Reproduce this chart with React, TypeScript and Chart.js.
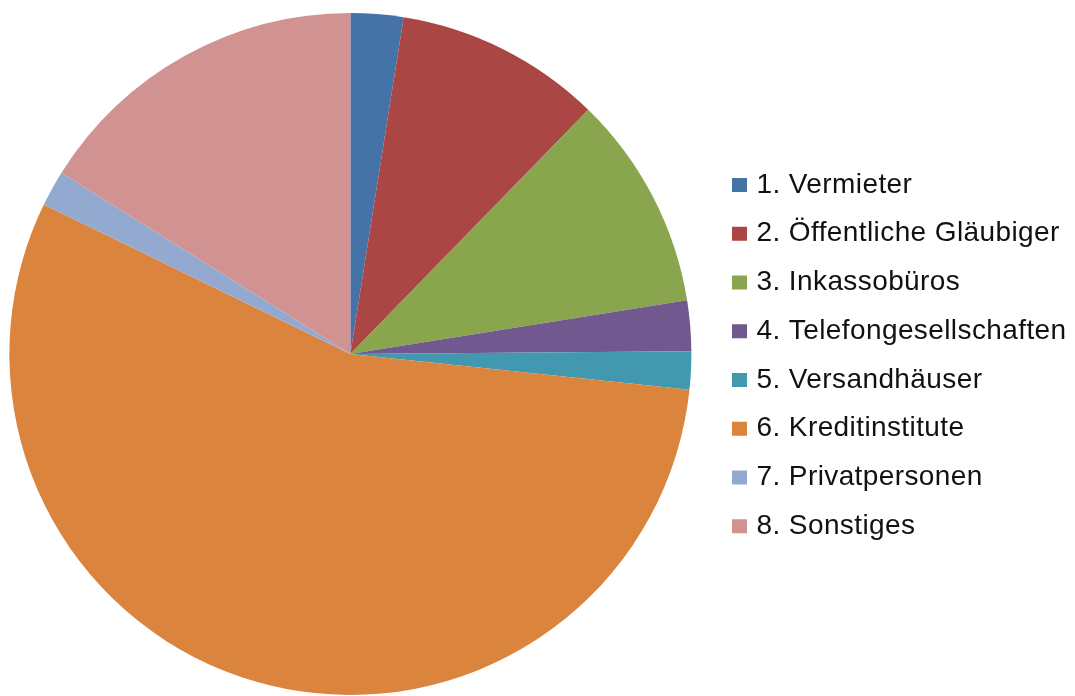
import React, { useEffect, useRef } from "react";
import { Chart, registerables } from "chart.js";

Chart.register(...registerables);

const CATEGORIES = [
  "1. Vermieter",
  "2. Öffentliche Gläubiger",
  "3. Inkassobüros",
  "4. Telefongesellschaften",
  "5. Versandhäuser",
  "6. Kreditinstitute",
  "7. Privatpersonen",
  "8. Sonstiges",
];

const SHARES = [2.5, 9.8, 10.2, 2.4, 1.8, 55.6, 1.7, 16.1];

const COLORS = [
  "#4573A7",
  "#AA4643",
  "#89A54E",
  "#71588F",
  "#4198AF",
  "#DB843D",
  "#93A9CF",
  "#D19392",
];

const CANVAS_W = 1091;
const CANVAS_H = 696;
const CANVAS_OFFSET_X = -16;
const LEGEND_W = 359.25;
const FONT = "'Liberation Sans', Arial, sans-serif";

const legendWidthPlugin = {
  id: "legendWidth",
  beforeLayout(chart: any) {
    const lg = chart.legend;
    if (lg && !lg.__patched) {
      const orig = lg.fit.bind(lg);
      lg.fit = function () {
        orig();
        this.width = LEGEND_W;
      };
      lg.__patched = true;
    }
  },
};

const letterSpacingPlugin = {
  id: "letterSpacing",
  beforeDraw(chart: any) {
    chart.ctx.letterSpacing = "0.4px";
  },
  afterDraw(chart: any) {
    chart.ctx.letterSpacing = "0px";
  },
};

export default function App() {
  const ref = useRef<HTMLCanvasElement | null>(null);

  useEffect(() => {
    if (!ref.current) return;
    const chart = new Chart(ref.current, {
      type: "pie",
      data: {
        labels: CATEGORIES,
        datasets: [
          {
            data: SHARES,
            backgroundColor: COLORS,
            borderWidth: 0,
          },
        ],
      },
      options: {
        animation: false,
        responsive: false,
        radius: 341,
        layout: { padding: { left: 1, top: 12, right: 0, bottom: 0 } },
        plugins: {
          tooltip: { enabled: false },
          legend: {
            position: "right",
            align: "center",
            title: {
              display: true,
              text: " ",
              font: { size: 3, lineHeight: 1 },
              padding: 0,
            },
            labels: {
              font: { family: FONT, size: 28 },
              color: "#111",
              padding: 20.75,
              boxWidth: 6,
              boxHeight: 5,
              generateLabels: () =>
                CATEGORIES.map((text, i) => ({
                  text,
                  fillStyle: COLORS[i],
                  strokeStyle: COLORS[i],
                  lineWidth: 9,
                  lineJoin: "miter",
                  hidden: false,
                  index: i,
                  fontColor: "#111",
                })),
            },
          },
        },
      } as any,
      plugins: [legendWidthPlugin, letterSpacingPlugin],
    });
    return () => chart.destroy();
  }, []);

  return (
    <div
      style={{
        position: "absolute",
        left: CANVAS_OFFSET_X,
        top: 0,
        width: CANVAS_W,
        height: CANVAS_H,
        background: "#fff",
      }}
    >
      <canvas
        ref={ref}
        width={CANVAS_W}
        height={CANVAS_H}
        style={{ display: "block", width: CANVAS_W, height: CANVAS_H }}
      />
    </div>
  );
}
